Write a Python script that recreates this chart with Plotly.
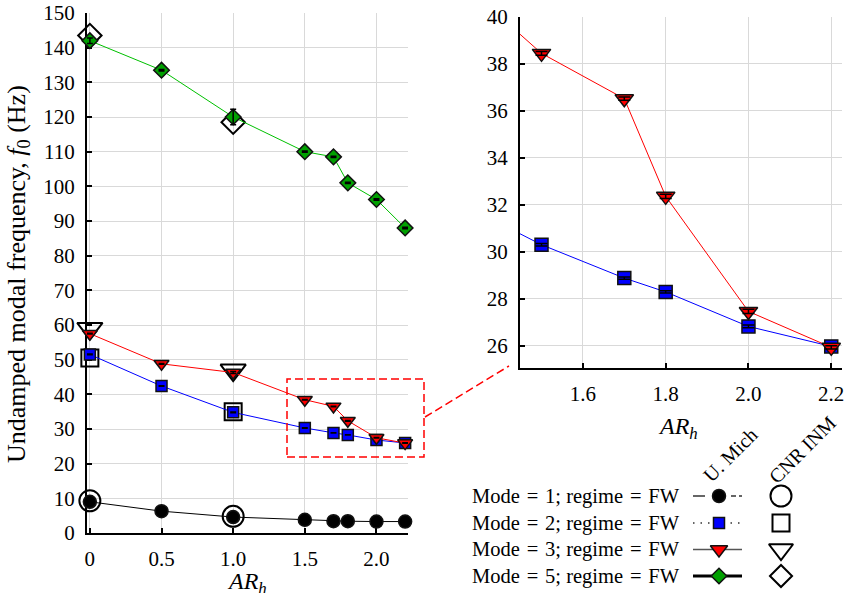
import plotly.graph_objects as go

W, H = 847, 593

# ---------------- data ----------------
ar = [0.0, 0.5, 1.0, 1.5, 1.7, 1.8, 2.0, 2.2]
mich_mode1 = [9.0, 6.3, 4.6, 3.8, 3.4, 3.4, 3.3, 3.3]
mich_mode2 = [51.5, 42.4, 34.8, 30.30, 28.88, 28.29, 26.82, 25.97]
mich_mode3 = [57.5, 48.8, 46.3, 38.45, 36.52, 32.36, 27.46, 25.93]
mich_mode5 = [142.0, 133.5, 120.0, 110.0, 108.5, 101.0, 96.2, 88.0]
err_mode1 = [0.1, 0.1, 0.1, 0.1, 0.1, 0.1, 0.1, 0.1]
err_mode2 = [0.1, 0.1, 0.1, 0.05, 0.05, 0.05, 0.06, 0.05]
err_mode3 = [0.1, 0.1, 0.3, 0.08, 0.07, 0.09, 0.09, 0.07]
err_mode5 = [0.8, 0.2, 2.2, 0.2, 0.2, 0.2, 0.2, 0.2]

cnr_ar = [0.0, 1.0]
cnr_mode1 = [9.3, 4.8]
cnr_mode2 = [50.5, 35.0]
cnr_mode3 = [59.0, 47.0]
cnr_mode5 = [143.5, 118.5]

main_xticks = [0, 0.5, 1.0, 1.5, 2.0]
main_xtext = ["0", "0.5", "1.0", "1.5", "2.0"]
main_yticks = [0, 10, 20, 30, 40, 50, 60, 70, 80, 90, 100, 110, 120, 130, 140, 150]
inset_xticks = [1.6, 1.8, 2.0, 2.2]
inset_xtext = ["1.6", "1.8", "2.0", "2.2"]
inset_yticks = [26, 28, 30, 32, 34, 36, 38, 40]

legend_labels = ["Mode = 1; regime = FW", "Mode = 2; regime = FW",
                 "Mode = 3; regime = FW", "Mode = 5; regime = FW"]

# ---------------- styles ----------------
FONT = "Liberation Serif"
colors = {1: "#000000", 2: "#0000ff", 3: "#ff0000", 5: "#00a000"}
line_colors = {1: "#000000", 2: "#0000ff", 3: "#ff0000", 5: "#00c000"}
symbols = {1: "circle", 2: "square", 3: "triangle-down", 5: "diamond"}
main_sizes = {1: 13, 2: 11, 3: 13, 5: 12}
cnr_sizes = {1: 21, 2: 17, 3: 22, 5: 18}
inset_sizes = {1: 13, 2: 13, 3: 16, 5: 12}

def px_x(p):
    return p / W

def px_y(p):
    return 1 - p / H

# plot areas in pixels
MAIN = dict(l=87, r=408, t=13, b=533)
INSET = dict(l=520, r=842, t=17, b=368)

fig = go.Figure()

series = [(1, mich_mode1, err_mode1, cnr_mode1),
          (2, mich_mode2, err_mode2, cnr_mode2),
          (3, mich_mode3, err_mode3, cnr_mode3),
          (5, mich_mode5, err_mode5, cnr_mode5)]

# main plot: CNR open markers first
for m, ys, es, cys in series:
    fig.add_trace(go.Scatter(
        x=cnr_ar, y=cys, mode="markers", xaxis="x", yaxis="y",
        cliponaxis=False, showlegend=False,
        marker=dict(symbol=symbols[m] + "-open", size=cnr_sizes[m],
                    color="black", line=dict(width=2, color="black"))))

for m, ys, es, cys in series:
    fig.add_trace(go.Scatter(
        x=ar, y=ys, mode="lines+markers", xaxis="x", yaxis="y",
        cliponaxis=False, showlegend=False,
        line=dict(color=line_colors[m], width=1),
        marker=dict(symbol=symbols[m], size=main_sizes[m], color=colors[m],
                    line=dict(width=1.5, color="#111111"))))
    fig.add_trace(go.Scatter(
        x=ar, y=ys, mode="markers", xaxis="x", yaxis="y",
        cliponaxis=False, showlegend=False,
        marker=dict(size=1, color="rgba(0,0,0,0)"),
        error_y=dict(type="data", array=es, color="black", thickness=1.5, width=3)))

# inset: modes 2 and 3
for m, ys, es, cys in series:
    if m not in (2, 3):
        continue
    fig.add_trace(go.Scatter(
        x=ar, y=ys, mode="lines+markers", xaxis="x2", yaxis="y2",
        showlegend=False,
        line=dict(color=line_colors[m], width=1),
        marker=dict(symbol=symbols[m], size=inset_sizes[m], color=colors[m],
                    line=dict(width=1.5, color="#111111"))))
    fig.add_trace(go.Scatter(
        x=ar, y=ys, mode="markers", xaxis="x2", yaxis="y2",
        showlegend=False,
        marker=dict(size=1, color="rgba(0,0,0,0)"),
        error_y=dict(type="data", array=es, color="black", thickness=1.5, width=6)))

# ---------------- custom legend on a pixel overlay axis ----------------
row_y = [496, 523, 549.5, 576]
LX0, LX1, LXM, CNRX = 693, 742, 719, 781
leg_sizes = {1: 13, 2: 11, 3: 15, 5: 12}
leg_cnr_sizes = {1: 21, 2: 17, 3: 21, 5: 17}
modes = [1, 2, 3, 5]
for i, m in enumerate(modes):
    y = row_y[i]
    if m == 1:
        fig.add_trace(go.Scatter(x=[LX0, 705], y=[y, y], mode="lines", xaxis="x3", yaxis="y3",
                                 showlegend=False, line=dict(color="#333", width=1.5)))
        fig.add_trace(go.Scatter(x=[731, LX1], y=[y, y], mode="lines", xaxis="x3", yaxis="y3",
                                 showlegend=False, line=dict(color="#333", width=1.5, dash="5px,3px")))
    elif m == 2:
        fig.add_trace(go.Scatter(x=[LX0, LX1], y=[y, y], mode="lines", xaxis="x3", yaxis="y3",
                                 showlegend=False, line=dict(color="#333", width=1.5, dash="1.5px,6px")))
    elif m == 3:
        fig.add_trace(go.Scatter(x=[LX0, LX1], y=[y, y], mode="lines", xaxis="x3", yaxis="y3",
                                 showlegend=False, line=dict(color="#555", width=1.5)))
    else:
        fig.add_trace(go.Scatter(x=[LX0, LX1], y=[y, y], mode="lines", xaxis="x3", yaxis="y3",
                                 showlegend=False, line=dict(color="black", width=3)))
    fig.add_trace(go.Scatter(x=[LXM], y=[y], mode="markers", xaxis="x3", yaxis="y3",
                             showlegend=False, cliponaxis=False,
                             marker=dict(symbol=symbols[m], size=leg_sizes[m], color=colors[m],
                                         line=dict(width=1.5, color="#111111"))))
    fig.add_trace(go.Scatter(x=[CNRX], y=[y], mode="markers", xaxis="x3", yaxis="y3",
                             showlegend=False, cliponaxis=False,
                             marker=dict(symbol=symbols[m] + "-open", size=leg_cnr_sizes[m],
                                         color="black", line=dict(width=2, color="black"))))

annotations = []
for i, lab in enumerate(legend_labels):
    annotations.append(dict(text=lab.replace(" = ", " \u200a=\u200a "), x=px_x(682), y=px_y(row_y[i]),
                            xref="paper", yref="paper",
                            xanchor="right", yanchor="middle", showarrow=False,
                            font=dict(family=FONT, size=20.5, color="black")))
annotations.append(dict(text="U. Mich", x=px_x(730), y=px_y(455), xref="paper", yref="paper",
                        xanchor="center", yanchor="middle", showarrow=False, textangle=-45,
                        font=dict(family=FONT, size=20, color="black")))
annotations.append(dict(text="CNR INM", x=px_x(802), y=px_y(450), xref="paper", yref="paper",
                        xanchor="center", yanchor="middle", showarrow=False, textangle=-45,
                        font=dict(family=FONT, size=20, color="black")))
# axis titles
annotations.append(dict(text="Undamped modal frequency, <i>f</i><sub>0</sub> (Hz)",
                        x=px_x(18), y=px_y(274), xref="paper", yref="paper",
                        xanchor="center", yanchor="middle", showarrow=False, textangle=-90,
                        font=dict(family=FONT, size=26, color="black")))
annotations.append(dict(text="<i>AR<sub>h</sub></i>", x=px_x(247), y=px_y(583), xref="paper", yref="paper",
                        xanchor="center", yanchor="middle", showarrow=False,
                        font=dict(family=FONT, size=24, color="black")))
annotations.append(dict(text="<i>AR<sub>h</sub></i>", x=px_x(678), y=px_y(428), xref="paper", yref="paper",
                        xanchor="center", yanchor="middle", showarrow=False,
                        font=dict(family=FONT, size=24, color="black")))

shapes = [
    dict(type="rect", xref="paper", yref="paper",
         x0=px_x(287), x1=px_x(424), y0=px_y(457), y1=px_y(379),
         line=dict(color="#ff0000", width=1.5, dash="8px,4px")),
    dict(type="line", xref="paper", yref="paper",
         x0=px_x(425), y0=px_y(417), x1=px_x(509), y1=px_y(366),
         line=dict(color="#ff0000", width=1.5, dash="8px,4px")),
]

axis_common = dict(showline=True, linecolor="black", linewidth=2, ticks="inside",
                   ticklen=5, tickwidth=1.5, tickcolor="black", showgrid=True,
                   gridcolor="#d9d9d9", gridwidth=1, zeroline=False, layer="below traces",
                   automargin=False,
                   tickfont=dict(family=FONT, size=21, color="black"))

fig.update_layout(
    width=W, height=H, margin=dict(l=0, r=0, t=0, b=0, pad=0, autoexpand=False),
    paper_bgcolor="white", plot_bgcolor="rgba(0,0,0,0)", showlegend=False,
    xaxis=dict(domain=[px_x(MAIN["l"]), px_x(MAIN["r"])], range=[-0.02, 2.22],
               tickvals=main_xticks, ticktext=main_xtext, anchor="y",
               ticklabelstandoff=6, **axis_common),
    yaxis=dict(domain=[px_y(MAIN["b"]), px_y(MAIN["t"])], range=[0, 150],
               tickvals=main_yticks, anchor="x", ticklabelstandoff=6, **axis_common),
    xaxis2=dict(domain=[px_x(INSET["l"]), px_x(INSET["r"])], range=[1.448, 2.226],
                tickvals=inset_xticks, ticktext=inset_xtext, anchor="y2",
                ticklabelstandoff=6, **axis_common),
    yaxis2=dict(domain=[px_y(INSET["b"]), px_y(INSET["t"])], range=[25.05, 40],
                tickvals=inset_yticks, anchor="x2", ticklabelstandoff=6, **axis_common),
    xaxis3=dict(domain=[0, 1], range=[0, W], visible=False, anchor="y3", fixedrange=True,
                automargin=False),
    yaxis3=dict(domain=[0, 1], range=[H, 0], visible=False, anchor="x3", fixedrange=True,
                automargin=False),
    annotations=annotations, shapes=shapes,
)

fig.write_html("out.html")
